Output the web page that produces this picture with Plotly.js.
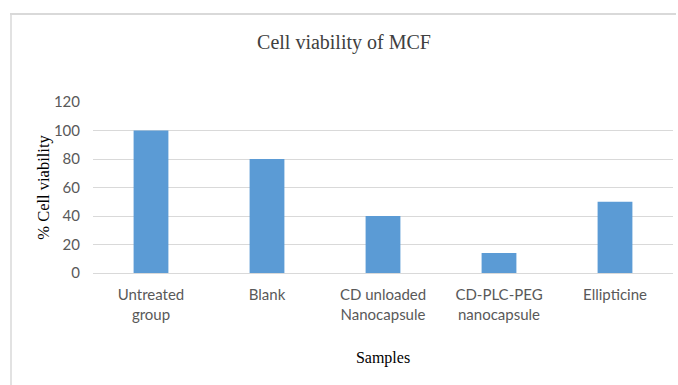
<!DOCTYPE html>
<html>
<head>
<meta charset="utf-8">
<script src="https://cdn.plot.ly/plotly-3.0.1.min.js"></script>
<style>html,body{margin:0;padding:0;background:#fff;}#chart{width:678px;height:385px;}</style>
</head>
<body>
<div id="chart"></div>
<script>
const categories = ["Untreated<br>group", "Blank", "CD unloaded<br>Nanocapsule", "CD-PLC-PEG<br>nanocapsule", "Ellipticine"];
const viability = [100, 80, 40, 14, 50];
const yTicks = [0, 20, 40, 60, 80, 100, 120];

const W = 678, H = 385;
const L = 93, R = 5, T = 102, B = 112;
const pw = W - L - R, ph = H - T - B;
const px2x = p => (p - L) / pw;
const py2y = p => (H - B - p) / ph;

const trace = {
  type: 'bar',
  x: categories,
  y: viability,
  marker: {color: '#5b9bd5'},
  width: 0.3,
  hoverinfo: 'none'
};

const tickFont = {family: 'Lato, Liberation Sans, Arial, sans-serif', size: 15, color: '#595959'};
const serif = 'Liberation Serif, Times New Roman, serif';

const layout = {
  width: W, height: H,
  margin: {l: L, r: R, t: T, b: B},
  paper_bgcolor: '#fff',
  plot_bgcolor: '#fff',
  showlegend: false,
  title: {
    text: 'Cell viability of MCF',
    font: {family: serif, size: 20, color: '#404040'},
    x: 344 / W, xanchor: 'center',
    y: 1 - 42 / H, yanchor: 'middle', yref: 'container'
  },
  xaxis: {
    type: 'category',
    tickfont: tickFont,
    ticks: '', showline: false, showgrid: false,
    ticklabelstandoff: 11,
    title: {text: 'Samples', font: {family: serif, size: 16, color: '#000'}, standoff: 30}
  },
  yaxis: {
    range: [0, 120],
    tickvals: yTicks,
    ticktext: yTicks.map(String),
    tickfont: tickFont,
    ticks: '', showline: false,
    gridcolor: '#d9d9d9', gridwidth: 1,
    zeroline: true, zerolinecolor: '#d9d9d9', zerolinewidth: 1,
    ticklabelstandoff: 12,
    title: {text: '% Cell viability', font: {family: serif, size: 16.5, color: '#000'}, standoff: 0}
  },
  shapes: [
    {type: 'line', xref: 'paper', yref: 'paper', x0: px2x(10), x1: px2x(676), y0: py2y(14), y1: py2y(14), line: {color: '#d9d9d9', width: 2}},
    {type: 'line', xref: 'paper', yref: 'paper', x0: px2x(11), x1: px2x(11), y0: py2y(14), y1: py2y(400), line: {color: '#d9d9d9', width: 1.5}}
  ]
};

Plotly.newPlot('chart', [trace], layout, {displayModeBar: false, staticPlot: true});
</script>
</body>
</html>
